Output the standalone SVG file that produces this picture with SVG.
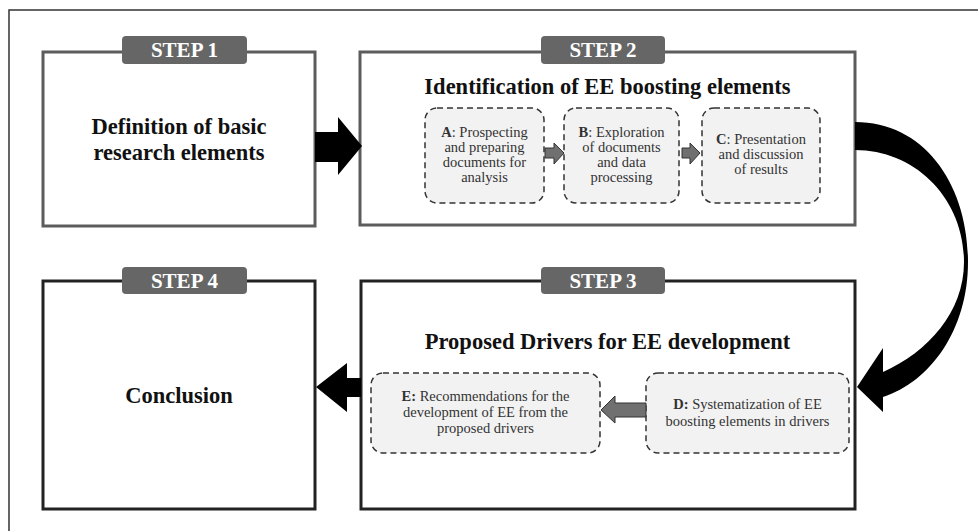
<svg xmlns="http://www.w3.org/2000/svg" width="978" height="531" viewBox="0 0 978 531">
<style>
.frame{fill:none;stroke:#333;stroke-width:1.5}
.box1{fill:#fff;stroke:#5c5c5c;stroke-width:3}
.box2{fill:#fff;stroke:#222;stroke-width:3}
.tab{fill:#666}
.tabt{font-family:"Liberation Serif",serif;font-weight:bold;font-size:21px;fill:#fff;text-anchor:middle}
.title{font-family:"Liberation Serif",serif;font-weight:bold;font-size:22.5px;fill:#111;text-anchor:middle}
.sub{fill:#f2f2f2;stroke:#333;stroke-width:1.5;stroke-dasharray:6 4}
.st{font-family:"Liberation Serif",serif;font-size:14.5px;fill:#333;text-anchor:middle}
.b{font-weight:bold}
.big{fill:#000}
.small{fill:#707070;stroke:#333;stroke-width:1}
</style>
<rect x="0" y="0" width="978" height="531" fill="#fff"/>
<path class="frame" d="M9,531 V10 H978"/>

<g id="step1">
<rect class="box1" x="43" y="52" width="272" height="174"/>
<rect class="tab" x="122" y="36" width="125" height="28" rx="4"/>
<text class="tabt" x="184.5" y="57">STEP 1</text>
<text class="title" x="179" y="134">Definition of basic</text>
<text class="title" x="179" y="160">research elements</text>
</g>

<g id="step2">
<rect class="box1" x="360" y="52" width="495" height="173"/>
<rect class="tab" x="541" y="36" width="124" height="28" rx="4"/>
<text class="tabt" x="603" y="57">STEP 2</text>
<text class="title" x="607.5" y="94">Identification of EE boosting elements</text>
</g>

<g id="A">
<rect class="sub" x="425" y="108" width="119" height="95" rx="12"/>
<text class="st" y="137"><tspan x="484.5"><tspan class="b">A</tspan>: Prospecting</tspan><tspan x="484.5" dy="15">and preparing</tspan><tspan x="484.5" dy="15">documents for</tspan><tspan x="484.5" dy="15">analysis</tspan></text>
</g>
<g id="B">
<rect class="sub" x="564" y="108" width="115" height="95" rx="12"/>
<text class="st" y="137"><tspan x="621.5"><tspan class="b">B</tspan>: Exploration</tspan><tspan x="621.5" dy="15">of documents</tspan><tspan x="621.5" dy="15">and data</tspan><tspan x="621.5" dy="15">processing</tspan></text>
</g>
<g id="C">
<rect class="sub" x="702" y="108" width="118" height="95" rx="12"/>
<text class="st" y="144"><tspan x="761"><tspan class="b">C</tspan>: Presentation</tspan><tspan x="761" dy="15">and discussion</tspan><tspan x="761" dy="15">of results</tspan></text>
</g>

<g id="step3">
<rect class="box2" x="361" y="281" width="494" height="228"/>
<rect class="tab" x="541" y="267" width="124" height="27" rx="4"/>
<text class="tabt" x="603" y="288">STEP 3</text>
<text class="title" x="607.5" y="349">Proposed Drivers for EE development</text>
</g>

<g id="E">
<rect class="sub" x="371" y="373" width="229" height="80" rx="12"/>
<text class="st" y="401"><tspan x="485.5"><tspan class="b">E:</tspan> Recommendations for the</tspan><tspan x="485.5" dy="16">development of EE from the</tspan><tspan x="485.5" dy="16">proposed drivers</tspan></text>
</g>
<g id="D">
<rect class="sub" x="646" y="373" width="203" height="80" rx="12"/>
<text class="st" y="409"><tspan x="747.5"><tspan class="b">D:</tspan> Systematization of EE</tspan><tspan x="747.5" dy="17">boosting elements in drivers</tspan></text>
</g>

<g id="step4">
<rect class="box2" x="43" y="281" width="272" height="228"/>
<rect class="tab" x="122" y="267" width="125" height="27" rx="4"/>
<text class="tabt" x="184.5" y="288">STEP 4</text>
<text class="title" x="179" y="403">Conclusion</text>
</g>

<g id="connectors">
<path class="big" d="M315,132 H338 V117 L362,146 L338,175 V162 H315 Z"/>
<path class="big" d="M855,122 C925,122 968,185 968,262 C968,330 930,382 883,397 L883,412 L857,387 L883,348 L883,372 C928,352 964,312 964,262 C964,198 915,150 855,150 Z"/>
<path class="big" d="M361,378 H347 V363 L316,387 L347,412 V397 H361 Z"/>
<path class="small" d="M545,148 H554 V143 L564,153 L554,164 V158 H545 Z"/>
<path class="small" d="M682,148 H690 V143 L700,153 L690,164 V158 H682 Z"/>
<path class="small" d="M646,403 H615 V396 L601,410 L615,423 V417 H646 Z"/>
</g>
</svg>
